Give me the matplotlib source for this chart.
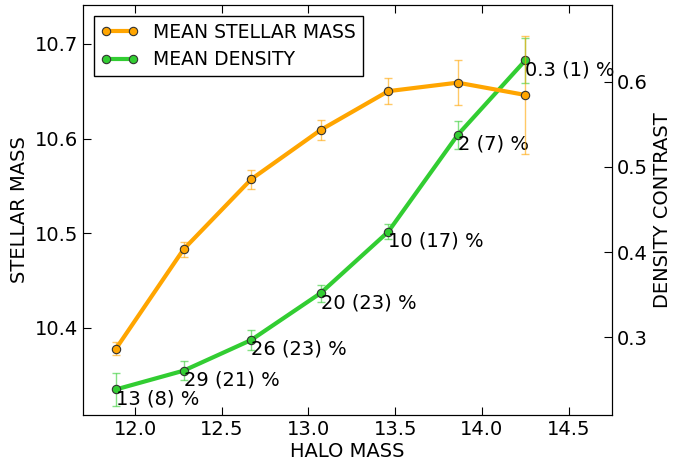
import matplotlib
matplotlib.use("Agg")
import matplotlib.pyplot as plt

# halo mass bins
halo = [11.89, 12.28, 12.67, 13.07, 13.46, 13.86, 14.25]

# mean stellar mass (left axis) and errors
mstar = [10.378, 10.483, 10.557, 10.609, 10.650, 10.659, 10.646]
mstar_err = [0.007, 0.008, 0.010, 0.011, 0.014, 0.024, 0.062]

# mean density contrast (right axis) and errors
dens = [0.239, 0.261, 0.297, 0.352, 0.424, 0.5375, 0.625]
dens_err = [0.019, 0.011, 0.012, 0.010, 0.009, 0.016, 0.026]
labels = ["13 (8) %", "29 (21) %", "26 (23) %", "20 (23) %",
          "10 (17) %", "2 (7) %", "0.3 (1) %"]

ORANGE = "orange"
GREEN = "limegreen"
FS = 14

plt.rcParams["font.family"] = "DejaVu Sans"
plt.rcParams["xtick.direction"] = "in"
plt.rcParams["ytick.direction"] = "in"

fig = plt.figure(figsize=(6.92, 4.61), dpi=100)
ax1 = fig.add_axes([83 / 692, 46 / 461, 529 / 692, 410 / 461])
ax2 = ax1.twinx()

ax1.errorbar(halo, mstar, yerr=mstar_err, fmt="none", ecolor=ORANGE,
             alpha=0.6, capsize=3, elinewidth=1)
l1, = ax1.plot(halo, mstar, "-o", color=ORANGE, lw=3, ms=6,
               mfc=ORANGE, mec="0.2", mew=0.8, label="MEAN STELLAR MASS")

ax2.errorbar(halo, dens, yerr=dens_err, fmt="none", ecolor=GREEN,
             alpha=0.6, capsize=3, elinewidth=1)
l2, = ax2.plot(halo, dens, "-o", color=GREEN, lw=3, ms=6,
               mfc=GREEN, mec="0.2", mew=0.8, label="MEAN DENSITY")
for x, y, s in zip(halo, dens, labels):
    ax2.text(x, y, s, ha="left", va="top", fontsize=FS)

ax1.set_xlim(11.7, 14.75)
ax1.set_ylim(10.308, 10.741)
ax2.set_ylim(0.209, 0.690)
ax1.set_xticks([12.0, 12.5, 13.0, 13.5, 14.0, 14.5])
ax1.set_yticks([10.4, 10.5, 10.6, 10.7])
ax2.set_yticks([0.3, 0.4, 0.5, 0.6])

ax1.tick_params(axis="both", labelsize=FS, top=True, length=6, width=0.8)
ax2.tick_params(axis="y", labelsize=FS, length=6, width=0.8)
ax1.set_xlabel("HALO MASS", fontsize=FS, labelpad=2)
ax1.set_ylabel("STELLAR MASS", fontsize=FS)
ax2.set_ylabel("DENSITY CONTRAST", fontsize=FS)

leg = ax1.legend(handles=[l1, l2], loc="upper left", fontsize=13.5,
                 numpoints=2, fancybox=False, framealpha=1,
                 borderaxespad=0.6, handlelength=2.0, labelspacing=0.45,
                 borderpad=0.35)
leg.get_frame().set_edgecolor("black")
ax1.set_zorder(ax2.get_zorder() + 1)
ax1.patch.set_visible(False)

fig.savefig("out.png", dpi=100)
